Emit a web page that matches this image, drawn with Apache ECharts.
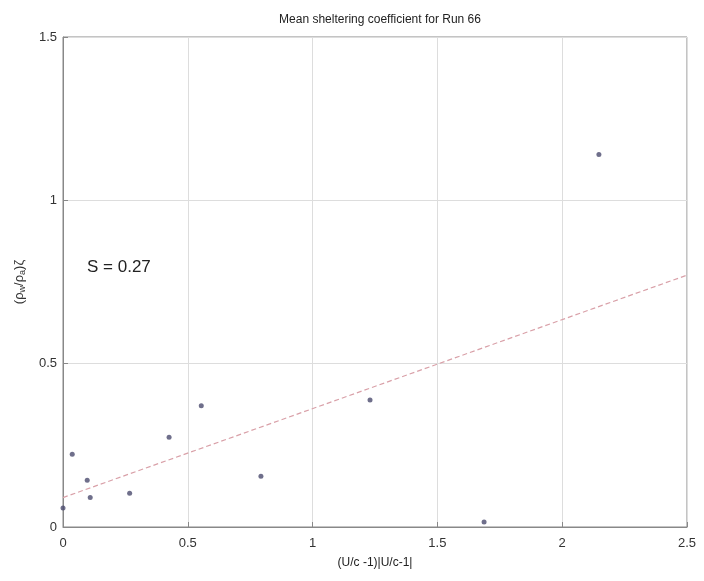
<!DOCTYPE html>
<html lang="en">
<head>
    <meta charset="UTF-8">
    <title>Mean sheltering coefficient for Run 66</title>
    <script src="https://cdn.jsdelivr.net/npm/echarts@6/dist/echarts.min.js"></script>
    <style>
        body { margin: 0; background: #fff; }
        #main { width: 704px; height: 581px; }
    </style>
</head>
<body>
    <div id="main"></div>
    <script>
        // measured points (x = (U/c-1)|U/c-1|, y = sheltering term)
        const xVals = [0, 0.037, 0.097, 0.109, 0.267, 0.425, 0.554, 0.793, 1.23, 1.687, 2.147];
        const yVals = [0.058, 0.223, 0.143, 0.090, 0.103, 0.275, 0.371, 0.155, 0.389, 0.015, 1.14];
        // least squares fit line end points
        const fitX = [0, 2.5];
        const fitY = [0.09, 0.771];
        const slopeText = 'S = 0.27';

        const chart = echarts.init(document.getElementById('main'));
        const axisFont = { color: '#333', fontSize: 13, fontFamily: 'Liberation Sans, Arial, sans-serif' };

        chart.setOption({
            animation: false,
            title: {
                text: 'Mean sheltering coefficient for Run 66',
                left: 375, top: 9, textAlign: 'center',
                textStyle: { fontSize: 12, fontWeight: 'normal', color: '#222', fontFamily: 'Liberation Sans, Arial, sans-serif' }
            },
            grid: { left: 63, right: 17, top: 37, bottom: 54, show: true, borderColor: '#888', borderWidth: 1 },
            xAxis: {
                type: 'value', min: 0, max: 2.5, interval: 0.5,
                name: '(U/c -1)|U/c-1|', nameLocation: 'middle', nameGap: 30,
                nameTextStyle: { fontSize: 12, color: '#222' },
                axisLine: { lineStyle: { color: '#888' } },
                axisTick: { inside: true, length: 5, lineStyle: { color: '#888' } },
                axisLabel: Object.assign({ margin: 10, formatter: v => String(v) }, axisFont),
                splitLine: { lineStyle: { color: '#ddd' } }
            },
            yAxis: {
                type: 'value', min: 0, max: 1.5, interval: 0.5,
                name: '(ρ{s|w}/ρ{s|a})ζ', nameLocation: 'middle', nameGap: 36,
                nameTextStyle: { fontSize: 13, color: '#333', rich: { s: { fontSize: 9, color: '#333', padding: [6, 0, 0, 0] } } },
                axisLine: { lineStyle: { color: '#888' } },
                axisTick: { inside: true, length: 5, lineStyle: { color: '#888' } },
                axisLabel: Object.assign({ margin: 6, formatter: v => String(v) }, axisFont),
                splitLine: { lineStyle: { color: '#ddd' } }
            },
            graphic: [{
                type: 'text', left: 87, top: 259,
                style: { text: slopeText, fontSize: 17, fill: '#222', fontFamily: 'Liberation Sans, Arial, sans-serif' }
            }],
            series: [{
                type: 'line',
                data: fitX.map((x, i) => [x, fitY[i]]),
                symbol: 'none',
                lineStyle: { color: '#d9a0a8', width: 1.2, type: [5, 3] },
                z: 2
            }, {
                type: 'scatter',
                data: xVals.map((x, i) => [x, yVals[i]]),
                symbol: 'circle',
                symbolSize: 5,
                itemStyle: { color: '#4b4b6e' },
                z: 3
            }]
        });
    </script>
</body>
</html>
